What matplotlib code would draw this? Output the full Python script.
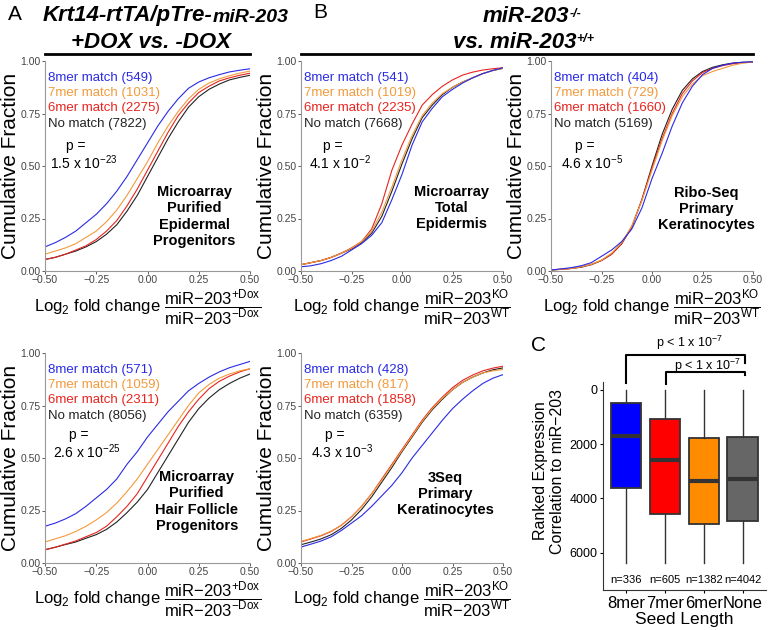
import matplotlib
matplotlib.use("Agg")
import matplotlib.pyplot as plt
from matplotlib.lines import Line2D

plt.rcParams['font.family'] = ['Liberation Sans', 'DejaVu Sans']
plt.rcParams['mathtext.fontset'] = 'custom'
plt.rcParams['mathtext.rm'] = 'Liberation Sans'
plt.rcParams['mathtext.it'] = 'Liberation Sans:italic'
plt.rcParams['mathtext.bf'] = 'Liberation Sans:bold'

W, H = 774, 630

# ---- data ----
log2fc = [-0.50, -0.45, -0.40, -0.35, -0.30, -0.25, -0.20, -0.15, -0.10, -0.05, 0.00,
          0.05, 0.10, 0.15, 0.20, 0.25, 0.30, 0.35, 0.40, 0.45, 0.50]

seed_names = ["8mer match", "7mer match", "6mer match", "No match"]
seed_colors = ["#2a2ae6", "#f39a3c", "#e8241e", "#222222"]

# Microarray, purified epidermal progenitors (+DOX vs -DOX)
epi_8mer = [0.115, 0.135, 0.16, 0.19, 0.23, 0.27, 0.32, 0.38, 0.45, 0.53, 0.61,
            0.69, 0.76, 0.82, 0.87, 0.90, 0.92, 0.935, 0.948, 0.956, 0.963]
epi_7mer = [0.08, 0.095, 0.11, 0.13, 0.16, 0.19, 0.235, 0.29, 0.36, 0.44, 0.52,
            0.61, 0.69, 0.76, 0.82, 0.865, 0.895, 0.915, 0.93, 0.942, 0.952]
epi_6mer = [0.055, 0.065, 0.08, 0.10, 0.12, 0.15, 0.19, 0.24, 0.31, 0.39, 0.48,
            0.57, 0.66, 0.74, 0.80, 0.85, 0.88, 0.905, 0.92, 0.932, 0.942]
epi_none = [0.055, 0.065, 0.08, 0.095, 0.115, 0.14, 0.175, 0.22, 0.285, 0.36, 0.45,
            0.54, 0.63, 0.71, 0.78, 0.83, 0.865, 0.89, 0.91, 0.922, 0.932]
epi_counts = [549, 1031, 2275, 7822]

# Microarray, purified hair follicle progenitors (+DOX vs -DOX)
hf_8mer = [0.175, 0.19, 0.21, 0.235, 0.27, 0.31, 0.35, 0.40, 0.47, 0.53, 0.60,
           0.66, 0.72, 0.77, 0.82, 0.855, 0.885, 0.91, 0.93, 0.945, 0.96]
hf_7mer = [0.10, 0.115, 0.13, 0.15, 0.175, 0.205, 0.24, 0.285, 0.34, 0.40, 0.47,
           0.54, 0.61, 0.68, 0.75, 0.81, 0.85, 0.88, 0.90, 0.915, 0.925]
hf_6mer = [0.063, 0.075, 0.09, 0.105, 0.125, 0.145, 0.175, 0.22, 0.27, 0.33, 0.41,
           0.49, 0.57, 0.65, 0.72, 0.78, 0.83, 0.865, 0.89, 0.91, 0.925]
hf_none = [0.063, 0.075, 0.088, 0.10, 0.118, 0.135, 0.16, 0.195, 0.24, 0.29, 0.35,
           0.43, 0.51, 0.59, 0.67, 0.735, 0.785, 0.825, 0.855, 0.88, 0.90]
hf_counts = [571, 1059, 2311, 8056]

# Microarray, total epidermis (KO vs WT)
tot_8mer = [0.02, 0.025, 0.035, 0.05, 0.07, 0.10, 0.13, 0.17, 0.23, 0.34, 0.46,
            0.60, 0.71, 0.775, 0.83, 0.865, 0.895, 0.92, 0.94, 0.955, 0.968]
tot_7mer = [0.03, 0.04, 0.05, 0.065, 0.085, 0.108, 0.14, 0.19, 0.28, 0.40, 0.53,
            0.645, 0.74, 0.80, 0.845, 0.875, 0.90, 0.92, 0.94, 0.955, 0.965]
tot_6mer = [0.03, 0.04, 0.05, 0.065, 0.085, 0.11, 0.14, 0.20, 0.32, 0.48, 0.60,
            0.70, 0.79, 0.84, 0.88, 0.91, 0.933, 0.947, 0.957, 0.963, 0.968]
tot_none = [0.03, 0.04, 0.05, 0.065, 0.085, 0.105, 0.135, 0.18, 0.26, 0.38, 0.51,
            0.63, 0.73, 0.79, 0.84, 0.875, 0.90, 0.92, 0.94, 0.955, 0.965]
tot_counts = [541, 1019, 2235, 7668]

# Ribo-Seq, primary keratinocytes (KO vs WT)
ribo_8mer = [0.005, 0.01, 0.016, 0.025, 0.04, 0.07, 0.10, 0.14, 0.20, 0.30, 0.44,
             0.56, 0.69, 0.80, 0.88, 0.935, 0.965, 0.98, 0.99, 0.994, 0.996]
ribo_7mer = [0.005, 0.008, 0.012, 0.02, 0.032, 0.052, 0.085, 0.135, 0.215, 0.335, 0.48,
             0.62, 0.74, 0.83, 0.89, 0.93, 0.95, 0.965, 0.98, 0.99, 0.995]
ribo_6mer = [0.005, 0.008, 0.012, 0.02, 0.032, 0.05, 0.08, 0.13, 0.21, 0.34, 0.49,
             0.63, 0.75, 0.845, 0.905, 0.945, 0.965, 0.978, 0.987, 0.992, 0.995]
ribo_none = [0.005, 0.008, 0.012, 0.018, 0.03, 0.05, 0.08, 0.13, 0.21, 0.34, 0.50,
             0.65, 0.77, 0.86, 0.915, 0.95, 0.97, 0.982, 0.99, 0.994, 0.996]
ribo_counts = [404, 729, 1660, 5169]

# 3Seq, primary keratinocytes (KO vs WT)
tseq_8mer = [0.076, 0.09, 0.105, 0.125, 0.155, 0.19, 0.225, 0.27, 0.32, 0.37, 0.43,
             0.50, 0.56, 0.62, 0.68, 0.735, 0.78, 0.82, 0.855, 0.88, 0.897]
tseq_7mer = [0.103, 0.117, 0.132, 0.152, 0.18, 0.22, 0.27, 0.33, 0.395, 0.465, 0.535,
             0.605, 0.675, 0.735, 0.785, 0.825, 0.86, 0.885, 0.905, 0.915, 0.922]
tseq_6mer = [0.10, 0.115, 0.13, 0.15, 0.18, 0.22, 0.27, 0.33, 0.40, 0.47, 0.54,
             0.61, 0.68, 0.74, 0.79, 0.835, 0.87, 0.895, 0.915, 0.928, 0.937]
tseq_none = [0.087, 0.10, 0.115, 0.135, 0.165, 0.205, 0.255, 0.315, 0.385, 0.455, 0.53,
             0.60, 0.67, 0.73, 0.78, 0.825, 0.86, 0.885, 0.905, 0.92, 0.929]
tseq_counts = [428, 817, 1858, 6359]

xtick_vals = [-0.50, -0.25, 0.00, 0.25, 0.50]
xtick_labels = ["\u22120.50", "\u22120.25", "0.00", "0.25", "0.50"]
ytick_vals = [0.00, 0.25, 0.50, 0.75, 1.00]
ytick_labels = ["0.00", "0.25", "0.50", "0.75", "1.00"]

# Panel C: ranked expression correlation boxplot
box_groups = ["8mer", "7mer", "6mer", "None"]
box_n = [336, 605, 1382, 4042]
box_q1 = [491, 1082, 1760, 1723]
box_med = [1686, 2583, 3346, 3284]
box_q3 = [3628, 4576, 4945, 4834]
box_lo = [0, 0, 0, 0]
box_hi = [6380, 6380, 6380, 6380]
box_colors = ["#0000ff", "#ff0000", "#ff8c00", "#666666"]


def px_rect(left, top, width, height):
    return [left / W, 1 - (top + height) / H, width / W, height / H]


fig = plt.figure(figsize=(W / 100, H / 100), dpi=100)


def cdf_panel(rect, curves, counts, pval, desc, desc_xy, p_xy, xlabel):
    ax = fig.add_axes(px_rect(*rect))
    for ys, c in list(zip(curves, seed_colors))[::-1]:
        ax.plot(log2fc, ys, color=c, lw=0.8)
    ax.set_xlim(-0.5, 0.5)
    ax.set_ylim(0, 1)
    ax.set_xticks(xtick_vals, xtick_labels)
    ax.set_yticks(ytick_vals, ytick_labels)
    ax.tick_params(labelsize=7.5, length=2, width=0.6, pad=1, colors='#444444')
    for s in ['top', 'right']:
        ax.spines[s].set_visible(False)
    for s in ['left', 'bottom']:
        ax.spines[s].set_color('#999999')
        ax.spines[s].set_linewidth(0.8)
    # y label centred ~34 px left of the axis
    ax.text(-34 / rect[2], 0.5, "Cumulative Fraction", fontsize=15, rotation=90,
            ha='center', va='center', transform=ax.transAxes)
    for i, (name, n, c) in enumerate(zip(seed_names, counts, seed_colors)):
        ax.text(0.015, 0.92 - i * 0.073, f"{name} ({n})", color=c, fontsize=9.5,
                va='center', transform=ax.transAxes)
    ax.text(p_xy[0], p_xy[1], "p =", fontsize=10, ha='center', va='center',
            transform=ax.transAxes)
    ax.text(p_xy[0] + 0.04, p_xy[1] - 0.08, pval, fontsize=10, ha='center',
            va='center', transform=ax.transAxes)
    ax.text(desc_xy[0], desc_xy[1], desc, fontsize=10.5, fontweight='bold',
            ha='center', va='center', linespacing=1.2, transform=ax.transAxes)
    cx = (rect[0] + rect[2] / 2) / W
    cy = 1 - (rect[1] + rect[3] + 36) / H
    fig.text(cx, cy, xlabel, fontsize=12, ha='center', va='center')
    return ax


lab_dox = (r"Log$_2$ fold change $\dfrac{\mathrm{miR{-}203}^{{+}\mathrm{Dox}}}"
           r"{\mathrm{miR{-}203}^{{-}\mathrm{Dox}}}$")
lab_ko = (r"Log$_2$ fold change $\dfrac{\mathrm{miR{-}203}^{\mathrm{KO}}}"
          r"{\mathrm{miR{-}203}^{\mathrm{WT}}}$")

cdf_panel((45, 61, 205, 210), [epi_8mer, epi_7mer, epi_6mer, epi_none], epi_counts,
          r"1.5 x 10$^{-23}$", "Microarray\nPurified\nEpidermal\nProgenitors",
          (0.73, 0.26), (0.15, 0.595), lab_dox)
cdf_panel((301, 61, 202, 210), [tot_8mer, tot_7mer, tot_6mer, tot_none], tot_counts,
          r"4.1 x 10$^{-2}$", "Microarray\nTotal\nEpidermis",
          (0.746, 0.30), (0.155, 0.595), lab_ko)
cdf_panel((551, 61, 202, 210), [ribo_8mer, ribo_7mer, ribo_6mer, ribo_none], ribo_counts,
          r"4.6 x 10$^{-5}$", "Ribo-Seq\nPrimary\nKeratinocytes",
          (0.77, 0.295), (0.165, 0.595), lab_ko)
cdf_panel((45, 353, 205, 210), [hf_8mer, hf_7mer, hf_6mer, hf_none], hf_counts,
          r"2.6 x 10$^{-25}$", "Microarray\nPurified\nHair Follicle\nProgenitors",
          (0.74, 0.293), (0.165, 0.61), lab_dox)
cdf_panel((301, 353, 202, 210), [tseq_8mer, tseq_7mer, tseq_6mer, tseq_none], tseq_counts,
          r"4.3 x 10$^{-3}$", "3Seq\nPrimary\nKeratinocytes",
          (0.713, 0.33), (0.165, 0.61), lab_ko)

# ---- panel C ----
axc = fig.add_axes(px_rect(603, 382, 163, 208))
stats = [dict(q1=a, med=b, q3=c, whislo=d, whishi=e, fliers=[])
         for a, b, c, d, e in zip(box_q1, box_med, box_q3, box_lo, box_hi)]
bp = axc.bxp(stats, positions=[1, 2, 3, 4], widths=0.78, patch_artist=True,
             showfliers=False, showcaps=False,
             boxprops=dict(edgecolor='#333333', linewidth=1.3),
             medianprops=dict(color='#333333', linewidth=3),
             whiskerprops=dict(color='#333333', linewidth=1))
for patch, c in zip(bp['boxes'], box_colors):
    patch.set_facecolor(c)
axc.set_xlim(0.41, 4.6)
axc.set_ylim(7380, -295)
axc.set_yticks([0, 2000, 4000, 6000], ["0", "2000", "4000", "6000"])
axc.set_xticks([1, 2, 3, 4], box_groups)
axc.tick_params(axis='y', labelsize=9, length=2, pad=2)
axc.tick_params(axis='x', labelsize=12, length=2, pad=2)
for s in ['top', 'right']:
    axc.spines[s].set_visible(False)
for s in ['left', 'bottom']:
    axc.spines[s].set_color('#333333')
axc.set_xlabel("Seed Length", fontsize=12.5)
axc.xaxis.set_label_coords(0.5, -0.105)
for i, n in enumerate(box_n):
    axc.text(i + 1, 7011, f"n={n}", fontsize=8, ha='center', va='center')
axc.plot([1, 1, 4.07, 4.07], [-247, -1292, -1292, -985], color='black', lw=1.5,
         clip_on=False)
axc.plot([2.03, 2.03, 4.07, 4.07], [-221, -675, -675, -553], color='black', lw=1.5,
         clip_on=False)
axc.text(2.63, -1723, r"p < 1 x 10$^{-7}$", fontsize=9, ha='center', va='center',
         clip_on=False)
axc.text(3.10, -886, r"p < 1 x 10$^{-7}$", fontsize=9, ha='center', va='center',
         clip_on=False)
fig.text(549 / W, 1 - 471 / H, "Ranked Expression\nCorrelation to miR\u2212203",
         fontsize=11.5, rotation=90, ha='center', va='center', linespacing=1.15)

# ---- headers ----
fig.text(15 / W, 1 - 14 / H, "A", fontsize=15, ha='center', va='center')
fig.text(320 / W, 1 - 12 / H, "B", fontsize=15, ha='center', va='center')
fig.text(538 / W, 1 - 345 / H, "C", fontsize=15, ha='center', va='center')

t1 = fig.text(43 / W, 1 - 16 / H, "Krt14-rtTA/pTre-", fontsize=16, fontweight='bold',
              fontstyle='italic', ha='left', va='center')
plt.annotate("miR-203", xy=(1, 0), xycoords=t1, fontsize=14, fontweight='bold',
             fontstyle='italic', ha='left', va='bottom')
fig.text(151 / W, 1 - 42 / H, "+DOX vs. -DOX", fontsize=16, fontweight='bold',
         fontstyle='italic', ha='center', va='center')

b1 = fig.text(483 / W, 1 - 17 / H, "miR-203", fontsize=16, fontweight='bold',
              fontstyle='italic', ha='left', va='center')
plt.annotate("-/-", xy=(1, 0.95), xycoords=b1, fontsize=9, fontweight='bold',
             fontstyle='italic', ha='left', va='top')
b2 = fig.text(453 / W, 1 - 42 / H, "vs. miR-203", fontsize=16, fontweight='bold',
              fontstyle='italic', ha='left', va='center')
plt.annotate("+/+", xy=(1, 0.95), xycoords=b2, fontsize=9, fontweight='bold',
             fontstyle='italic', ha='left', va='top')

fig.add_artist(Line2D([45 / W, 250 / W], [1 - 54 / H] * 2, color='black', lw=2))
fig.add_artist(Line2D([301 / W, 753 / W], [1 - 54 / H] * 2, color='black', lw=2))

fig.savefig("out.png", dpi=100)
